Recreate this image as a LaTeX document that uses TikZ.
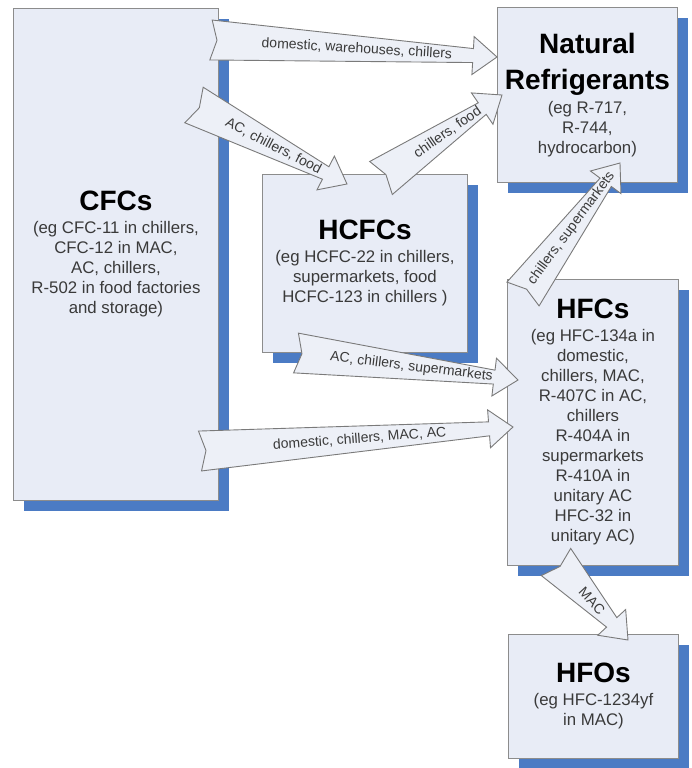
\documentclass[tikz,border=0pt]{standalone}
\usepackage{fontspec}
\setmainfont{Liberation Sans}
\usetikzlibrary{calc,shadows}
\definecolor{boxfill}{HTML}{E8ECF6}
\definecolor{boxline}{HTML}{8C8C8C}
\definecolor{shadowblue}{HTML}{4B7BC4}
\definecolor{arrfill}{HTML}{EDF0F7}
\definecolor{arrline}{HTML}{7A7A7A}
\definecolor{bodytext}{HTML}{3A3A3A}
\tikzset{
  box/.style={draw=boxline, line width=0.9pt, fill=boxfill, inner sep=0pt, anchor=north west,
    align=center, text=bodytext, font=\fontsize{16.8}{20}\selectfont,
    general shadow={fill=shadowblue, shadow xshift=10.5pt, shadow yshift=-10.5pt}},
  barrow/.style={draw=arrline, line width=0.9pt, fill=arrfill, line join=miter},
  arrowlabel/.style={font=\fontsize{14}{16}\selectfont, text=bodytext, inner sep=0pt}
}
\newcommand{\ttl}[1]{{\fontsize{28}{34}\selectfont\bfseries\color{black}#1}}
\newcommand{\blockarrow}[4]{%
  \path let \p1=($(#2)-(#1)$) in \pgfextra{%
    \pgfmathsetmacro\tmpang{atan2(\y1,\x1)}\xdef\baang{\tmpang}%
    \pgfmathsetmacro\tmplen{veclen(\x1,\y1)}\xdef\balen{\tmplen}};
  \begin{scope}[shift={(#1)}, rotate=\baang, x=1pt, y=1pt]
    \draw[barrow] (0,20) -- ({\balen-24},7) -- ({\balen-24},19) -- (\balen,0)
      -- ({\balen-24},-19) -- ({\balen-24},-7) -- (0,-20) -- (6,0) -- cycle;
    \node[arrowlabel, transform shape] at ({#4*\balen},0) {#3};
  \end{scope}
}
\begin{document}
\begin{tikzpicture}[x=1pt,y=-1pt]
\fill[white] (0,0) rectangle (692,768);
\useasboundingbox (0,0) rectangle (692,768);

% boxes
\node[box, minimum width=205pt, minimum height=492pt] (cfc) at (13,8)
  {\ttl{CFCs}\\[3pt](eg CFC-11 in chillers,\\CFC-12 in MAC,\\AC, chillers,\\R-502 in food factories\\and storage)};
\node[box, minimum width=205pt, minimum height=178pt] (hcfc) at (262,174)
  {\ttl{HCFCs}\\[3pt](eg HCFC-22 in chillers,\\supermarkets, food\\HCFC-123 in chillers )};
\node[box, minimum width=180pt, minimum height=175pt] (nat) at (497,7)
  {\ttl{Natural}\\[14pt]\ttl{Refrigerants}\\[4pt](eg R-717,\\R-744,\\hydrocarbon)};
\node[box, minimum width=171pt, minimum height=286pt] (hfc) at (507,279)
  {\ttl{HFCs}\\[3pt](eg HFC-134a in\\domestic,\\chillers, MAC,\\R-407C in AC,\\chillers\\R-404A in\\supermarkets\\R-410A in\\unitary AC\\HFC-32 in\\unitary AC)};
\node[box, minimum width=170pt, minimum height=124pt] (hfo) at (508,634)
  {\ttl{HFOs}\\[3pt](eg HFC-1234yf\\in MAC)};

% arrow end points
\coordinate (a1t) at (211,40);  \coordinate (a1h) at (497,57);
\coordinate (a2t) at (194,105); \coordinate (a2h) at (347,184);
\coordinate (a3t) at (381,178); \coordinate (a3h) at (502,95);
\coordinate (a4t) at (523,294); \coordinate (a4h) at (620,163);
\coordinate (a5t) at (296,353); \coordinate (a5h) at (518,380);
\coordinate (a6t) at (200,451); \coordinate (a6h) at (513,427);
\coordinate (a7t) at (556,562); \coordinate (a7h) at (628,640);

\blockarrow{a1t}{a1h}{domestic, warehouses, chillers}{0.51}
\blockarrow{a2t}{a2h}{AC, chillers, food}{0.52}
\blockarrow{a3t}{a3h}{chillers, food}{0.55}
\blockarrow{a4t}{a4h}{chillers, supermarkets}{0.5}
\blockarrow{a5t}{a5h}{AC, chillers, supermarkets}{0.52}
\blockarrow{a6t}{a6h}{domestic, chillers, MAC, AC}{0.51}
\blockarrow{a7t}{a7h}{MAC}{0.5}
\end{tikzpicture}
\end{document}
